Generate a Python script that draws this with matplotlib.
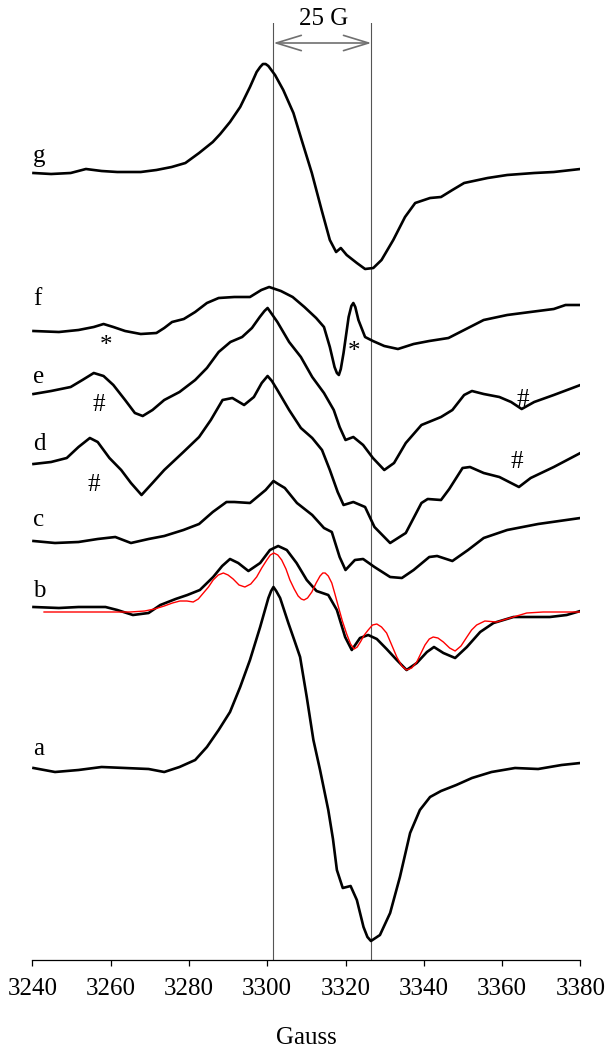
import matplotlib
matplotlib.use("Agg")
import matplotlib.pyplot as plt
import numpy as np

plt.rcParams["font.family"] = ["Liberation Serif", "DejaVu Serif"]

# EPR spectra as (field in gauss, signal in arbitrary units),
# each trace relative to its own baseline
spec_g = [(3240.3, 0), (3244.8, -1), (3249.8, 0), (3253.7, 4), (3257.7, 2), (3261.7, 1),
          (3267.7, 1), (3271.7, 3), (3275.6, 6), (3279.1, 10), (3282.6, 20), (3286.1, 31),
          (3288.0, 39), (3290.5, 51), (3293.1, 66), (3295.6, 86), (3297.3, 101), (3298.2, 106),
          (3298.9, 109), (3299.6, 109), (3300.3, 107), (3302.0, 98), (3304.1, 83), (3306.7, 60),
          (3308.8, 33), (3311.4, 0), (3313.9, -37), (3316.0, -67), (3317.6, -79), (3318.8, -75),
          (3320.3, -82), (3322.9, -90), (3325.0, -96), (3327.1, -95), (3329.2, -87), (3332.2, -67),
          (3335.2, -44), (3337.8, -30), (3341.6, -25), (3344.4, -24), (3347.3, -17), (3350.3, -10),
          (3356.3, -5), (3361.3, -2), (3368.2, 0), (3373.2, 1), (3380.0, 4)]

spec_f = [(3240.3, 0), (3246.8, -1), (3251.8, 1), (3255.7, 4), (3258.2, 7), (3260.7, 4),
          (3263.7, 0), (3267.7, -3), (3271.7, -2), (3273.7, 3), (3275.7, 9), (3278.7, 12),
          (3281.6, 19), (3284.6, 28), (3287.6, 33), (3291.6, 34), (3295.6, 34), (3298.5, 41),
          (3300.5, 44), (3303.5, 40), (3306.5, 34), (3309.5, 24), (3312.5, 13), (3314.5, 4),
          (3316.0, -16), (3317.2, -36), (3317.8, -42), (3318.3, -44), (3318.8, -38), (3319.5, -22),
          (3320.8, 14), (3321.5, 25), (3322.0, 28), (3322.5, 24), (3323.3, 11), (3325.0, -6),
          (3327.0, -10), (3329.9, -15), (3333.4, -18), (3337.4, -13), (3341.4, -10), (3346.3, -7),
          (3350.3, 1), (3355.3, 11), (3361.3, 16), (3367.2, 19), (3373.2, 22), (3376.2, 26),
          (3380.0, 26)]

spec_e = [(3240.3, 0), (3244.8, 3), (3249.8, 7), (3252.8, 14), (3255.7, 21), (3258.2, 18),
          (3260.7, 9), (3263.7, -6), (3266.2, -19), (3268.2, -22), (3270.7, -16), (3273.7, -6),
          (3277.6, 2), (3281.6, 14), (3284.6, 26), (3287.6, 42), (3290.6, 52), (3293.6, 57),
          (3296.1, 66), (3298.1, 77), (3299.3, 83), (3300.1, 86), (3301.0, 81), (3302.6, 72),
          (3305.6, 52), (3308.6, 37), (3311.5, 17), (3314.5, 1), (3317.0, -16), (3318.5, -33),
          (3320.0, -46), (3322.0, -43), (3324.5, -51), (3327.0, -64), (3329.9, -76), (3332.4, -69),
          (3335.4, -49), (3339.4, -31), (3344.4, -23), (3347.3, -16), (3350.3, -1), (3352.3, 3),
          (3355.3, 0), (3359.3, -3), (3362.3, -8), (3365.0, -15), (3368.2, -8), (3373.2, -1),
          (3380.0, 9)]

spec_d = [(3240.3, 0), (3244.8, 2), (3248.8, 6), (3251.8, 17), (3254.7, 26), (3256.7, 22),
          (3259.7, 6), (3262.7, -6), (3265.2, -19), (3267.9, -31), (3270.7, -19), (3273.7, -6),
          (3278.6, 12), (3282.6, 27), (3285.6, 44), (3288.6, 64), (3291.1, 66), (3294.1, 59),
          (3296.6, 67), (3298.6, 81), (3300.1, 88), (3301.2, 83), (3302.6, 74), (3305.6, 54),
          (3308.6, 36), (3311.5, 26), (3314.0, 14), (3316.0, -6), (3318.0, -28), (3319.5, -41),
          (3322.0, -38), (3325.0, -43), (3327.4, -63), (3331.4, -79), (3335.4, -69), (3339.4, -39),
          (3341.0, -35), (3344.4, -36), (3346.5, -25), (3349.9, -4), (3351.8, -3), (3355.3, -9),
          (3359.3, -13), (3364.3, -23), (3367.3, -14), (3373.2, -3), (3380.0, 11)]

spec_c = [(3240.3, 0), (3245.8, -2), (3251.8, -1), (3256.7, 2), (3261.2, 4), (3265.2, -2),
          (3269.7, 2), (3273.7, 5), (3278.6, 11), (3282.6, 17), (3286.1, 29), (3289.6, 39),
          (3291.6, 39), (3295.6, 38), (3299.6, 51), (3301.6, 60), (3302.8, 57), (3304.5, 53),
          (3307.6, 38), (3311.5, 26), (3314.5, 13), (3316.5, 9), (3318.5, -16), (3320.0, -29),
          (3322.4, -19), (3324.5, -18), (3327.4, -26), (3331.4, -36), (3334.4, -37), (3337.4, -29),
          (3341.4, -16), (3343.4, -15), (3347.3, -20), (3351.3, -9), (3355.3, 3), (3361.3, 11),
          (3369.2, 17), (3380.0, 23)]

spec_b = [(3240.3, 0), (3246.8, -1), (3251.8, 0), (3258.7, 0), (3261.7, -3), (3265.7, -8),
          (3269.7, -6), (3272.7, 2), (3276.6, 8), (3279.6, 12), (3282.8, 17), (3286.2, 30),
          (3288.5, 41), (3290.5, 48), (3292.6, 44), (3295.2, 36), (3298.2, 44), (3300.7, 57),
          (3302.8, 61), (3305.0, 57), (3307.5, 44), (3310.1, 27), (3312.6, 16), (3315.6, 12),
          (3317.8, -3), (3319.9, -30), (3321.6, -43), (3323.7, -31), (3325.8, -28), (3328.0, -32),
          (3330.5, -42), (3333.1, -53), (3335.6, -63), (3338.2, -56), (3340.8, -45), (3342.6, -40),
          (3345.0, -46), (3348.0, -51), (3351.0, -40), (3354.4, -25), (3357.8, -16), (3362.9, -10),
          (3368.0, -10), (3372.2, -10), (3376.5, -8), (3380.0, -4)]

# simulated spectrum drawn over b
spec_sim = [(3243.0, -5), (3265.0, -5), (3268.7, -4), (3271.2, -2), (3273.7, 1), (3275.8, 4),
            (3277.7, 6), (3279.5, 6), (3281.1, 5), (3282.4, 8), (3283.7, 14), (3285.0, 20),
            (3286.2, 27), (3287.5, 32), (3288.8, 34), (3290.0, 32), (3291.3, 28), (3292.8, 22),
            (3294.3, 20), (3295.8, 23), (3297.3, 30), (3298.6, 39), (3299.9, 47), (3300.8, 52),
            (3301.7, 54), (3302.7, 52), (3303.7, 47), (3304.8, 38), (3305.8, 27), (3306.9, 18),
            (3307.9, 11), (3308.7, 8), (3309.4, 7), (3310.3, 9), (3311.4, 15), (3312.5, 24),
            (3313.5, 31), (3314.2, 34), (3314.8, 34), (3315.6, 31), (3316.5, 24), (3317.3, 13),
            (3318.2, 0), (3319.2, -14), (3320.3, -27), (3321.3, -37), (3322.2, -42), (3323.0, -40),
            (3323.8, -35), (3324.8, -28), (3325.8, -23), (3326.9, -18), (3328.0, -17), (3329.2, -20),
            (3330.5, -26), (3331.8, -38), (3333.1, -50), (3334.4, -59), (3335.6, -63), (3336.9, -61),
            (3338.2, -55), (3339.3, -46), (3340.3, -38), (3341.4, -32), (3342.4, -30), (3343.6, -31),
            (3345.0, -35), (3346.6, -41), (3348.0, -44), (3349.5, -39), (3351.0, -30), (3352.2, -23),
            (3353.5, -18), (3355.6, -14), (3358.6, -15), (3362.0, -11), (3366.3, -6), (3370.5, -5),
            (3380.0, -5)]

spec_a = [(3240.3, 1), (3245.8, -3), (3251.8, -1), (3257.7, 2), (3263.7, 1), (3269.7, 0),
          (3273.7, -3), (3277.6, 2), (3281.6, 9), (3284.6, 22), (3287.6, 39), (3290.5, 57),
          (3293.1, 82), (3295.6, 109), (3298.2, 142), (3300.3, 171), (3301.0, 178), (3301.6, 182),
          (3302.3, 178), (3303.3, 171), (3305.4, 146), (3307.0, 128), (3308.4, 112), (3310.1, 72),
          (3311.8, 29), (3313.5, -1), (3315.6, -41), (3316.8, -70), (3317.8, -101), (3319.3, -119),
          (3321.3, -117), (3322.9, -131), (3324.6, -158), (3325.6, -168), (3326.5, -172),
          (3328.8, -166), (3331.4, -144), (3333.9, -108), (3336.5, -64), (3339.0, -41),
          (3341.6, -28), (3344.4, -22), (3348.3, -16), (3352.3, -9), (3357.3, -3), (3363.3, 1),
          (3369.2, 0), (3375.2, 4), (3380.0, 6)]

trace_names = ["a", "b", "c", "d", "e", "f", "g"]
trace_offsets = [191, 353, 419, 496, 566, 629, 787]
label_heights = [205, 363, 434, 510, 577, 655, 798]
spectra = [spec_a, spec_b, spec_c, spec_d, spec_e, spec_f, spec_g]

marker_lines = [3301.6, 3326.6]

fig = plt.figure(figsize=(6.12, 10.5), dpi=100)
ax = fig.add_axes([32.3 / 612, 90 / 1050, 548.1 / 612, 937.3 / 1050])
ax.set_xlim(3240, 3380)
ax.set_ylim(0, 937.3)

for fx in marker_lines:
    ax.axvline(fx, color="#555555", lw=0.8, zorder=1)

for name, off, lab_y, spec in zip(trace_names, trace_offsets, label_heights, spectra):
    fx, sy = np.array(spec, dtype=float).T
    ax.plot(fx, sy + off, color="black", lw=1.9, solid_joinstyle="round", zorder=3)
    ax.text(3240.2, lab_y, name, fontsize=18, ha="left", va="baseline")

fx, sy = np.array(spec_sim, dtype=float).T
ax.plot(fx, sy + trace_offsets[1], color="red", lw=1.0, solid_joinstyle="round", zorder=4)

# peak markers
ax.text(3258.9, 608, "*", fontsize=18, ha="center", va="baseline")
ax.text(3322.2, 602, "*", fontsize=18, ha="center", va="baseline")
ax.text(3257.1, 549, "#", fontsize=18, ha="center", va="baseline")
ax.text(3365.2, 554, "#", fontsize=18, ha="center", va="baseline")
ax.text(3255.7, 469, "#", fontsize=18, ha="center", va="baseline")
ax.text(3363.7, 492, "#", fontsize=18, ha="center", va="baseline")

# 25 G scale bar
ax.annotate("", xy=(marker_lines[0], 917), xytext=(marker_lines[1], 917),
            arrowprops=dict(arrowstyle="<->,head_length=18,head_width=5.5", color="#707070",
                            lw=1.2, mutation_scale=1, shrinkA=0, shrinkB=0))
ax.text(3314.4, 935, "25 G", fontsize=18, ha="center", va="baseline", clip_on=False)

for side in ["left", "right", "top"]:
    ax.spines[side].set_visible(False)
ax.spines["bottom"].set_linewidth(0.9)
ax.set_yticks([])
ax.set_xticks(np.arange(3240, 3381, 20))
ax.tick_params(axis="x", direction="out", length=4, width=0.9, pad=9, labelsize=18)

fig.text((32.3 + 548.1 / 2) / 612, 6 / 1050, "Gauss", fontsize=18, ha="center", va="baseline")

fig.savefig("out.png", dpi=100)
